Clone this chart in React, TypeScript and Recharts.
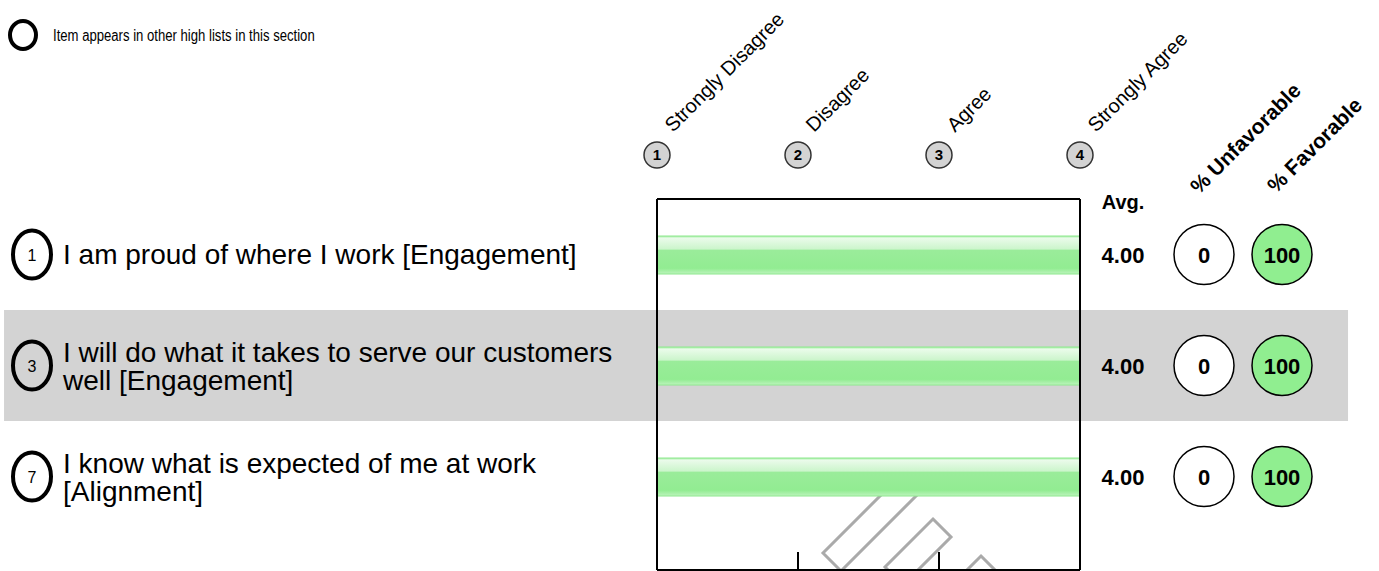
import { BarChart, Bar, XAxis, YAxis, ReferenceArea } from "recharts"

// survey items shown in the chart
const questionNumbers = [1, 3, 7]
const questionLines = [
  ["I am proud of where I work [Engagement]"],
  ["I will do what it takes to serve our customers", "well [Engagement]"],
  ["I know what is expected of me at work", "[Alignment]"],
]
const averages = [4.0, 4.0, 4.0]
const unfavorable = [0, 0, 0]
const favorable = [100, 100, 100]
const shadedRows = ["q3"]

// response scale
const scalePoints = [1, 2, 3, 4]
const scaleLabels = ["Strongly Disagree", "Disagree", "Agree", "Strongly Agree"]

const rows = questionNumbers.map((n, i) => ({ name: `q${n}`, avg: averages[i] }))

const FONT = "'Liberation Sans', Arial, sans-serif"
const rowIndex = (name: string) => rows.findIndex((r) => r.name === name)

const QuestionTick = (props: any) => {
  const { y, payload } = props
  const i = rowIndex(payload.value)
  if (i < 0) return <g />
  const lines = questionLines[i]
  const offsets = lines.length === 1 ? [9] : [-4, 24]
  return (
    <g>
      <ellipse cx={32} cy={y} rx={19} ry={24} fill="none" stroke="#000" strokeWidth={4} />
      <text x={32} y={y + 6} textAnchor="middle" fontSize={16} fill="#000">
        {questionNumbers[i]}
      </text>
      <text fontSize={28} fill="#000">
        {lines.map((l, k) => (
          <tspan key={k} x={63} y={y + offsets[k]}>
            {l}
          </tspan>
        ))}
      </text>
    </g>
  )
}

const ScoreTick = (props: any) => {
  const { x, y, payload } = props
  const i = rowIndex(payload.value)
  if (i < 0) return <g />
  return (
    <g fontWeight="bold" fontSize={22} fill="#000">
      <text x={x + 43} y={y + 8} textAnchor="middle">
        {averages[i].toFixed(2)}
      </text>
      <circle cx={x + 124} cy={y} r={30} fill="#fff" stroke="#000" strokeWidth={1.5} />
      <text x={x + 124} y={y + 8} textAnchor="middle">
        {unfavorable[i]}
      </text>
      <circle cx={x + 202} cy={y} r={30} fill="#90ee90" stroke="#000" strokeWidth={1.5} />
      <text x={x + 202} y={y + 8} textAnchor="middle">
        {favorable[i]}
      </text>
    </g>
  )
}

const ScaleTick = (props: any) => {
  const { x, y, payload } = props
  const i = scalePoints.indexOf(payload.value)
  const last = i === scalePoints.length - 1
  return (
    <g fill="#000">
      <circle cx={x} cy={y - 44} r={13} fill="#d3d3d3" stroke="#333" strokeWidth={1.5} />
      <text x={x} y={y - 39} textAnchor="middle" fontWeight="bold" fontSize={15}>
        {payload.value}
      </text>
      <text transform={`translate(${x + 16}, ${y - 66}) rotate(-45)`} fontSize={20}>
        {scaleLabels[i]}
      </text>
      {last && (
        <g fontWeight="bold">
          <text x={x + 43} y={y + 10} textAnchor="middle" fontSize={20}>
            Avg.
          </text>
          <text transform={`translate(${x + 119}, ${y - 4}) rotate(-45)`} fontSize={21}>
            % Unfavorable
          </text>
          <text transform={`translate(${x + 196}, ${y - 5}) rotate(-45)`} fontSize={21}>
            % Favorable
          </text>
        </g>
      )}
    </g>
  )
}

const InnerTick = (props: any) => {
  const { x, y, payload } = props
  if (payload.value === scalePoints[0] || payload.value === scalePoints[scalePoints.length - 1]) return <g />
  return <line x1={x} x2={x} y1={y} y2={y - 18} stroke="#000" strokeWidth={2} />
}

const axisLine = { stroke: "#000", strokeWidth: 2 }

export default function App() {
  return (
    <div style={{ position: "absolute", left: 0, top: 0, fontFamily: FONT }}>
      <BarChart
        width={1379}
        height={571}
        data={rows}
        layout="vertical"
        margin={{ top: 198, right: 298, bottom: 0, left: 656 }}
        style={{ fontFamily: FONT }}
      >
        <defs>
          <linearGradient id="barGlass" x1="0" y1="0" x2="0" y2="1">
            <stop offset="0%" stopColor="#a6efa6" />
            <stop offset="6%" stopColor="#eafbea" />
            <stop offset="34%" stopColor="#ccf5cc" />
            <stop offset="38%" stopColor="#9aec9a" />
            <stop offset="85%" stopColor="#92ec92" />
            <stop offset="100%" stopColor="#bdf4bd" />
          </linearGradient>
        </defs>

        {shadedRows.map((r) => (
          <ReferenceArea
            key={r}
            y1={r}
            y2={r}
            x1={-3.631}
            x2={5.901}
            ifOverflow="visible"
            fill="#d3d3d3"
            fillOpacity={1}
            stroke="none"
          />
        ))}

        <XAxis
          type="number"
          domain={[1, 4]}
          ticks={scalePoints}
          allowDataOverflow
          height={1}
          tickSize={0}
          tickMargin={0}
          tickLine={false}
          axisLine={axisLine}
          interval={0}
          tick={InnerTick}
        />
        <XAxis
          xAxisId="top"
          orientation="top"
          type="number"
          domain={[1, 4]}
          ticks={scalePoints}
          allowDataOverflow
          height={1}
          tickSize={0}
          tickMargin={0}
          tickLine={false}
          axisLine={axisLine}
          interval={0}
          tick={ScaleTick}
        />
        <YAxis
          type="category"
          dataKey="name"
          width={1}
          tickSize={0}
          tickMargin={0}
          tickLine={false}
          axisLine={axisLine}
          interval={0}
          padding={{ top: 0, bottom: 38 }}
          tick={QuestionTick}
        />
        <YAxis
          yAxisId="r"
          orientation="right"
          type="category"
          dataKey="name"
          width={1}
          tickSize={0}
          tickMargin={0}
          tickLine={false}
          axisLine={axisLine}
          interval={0}
          padding={{ top: 0, bottom: 38 }}
          tick={ScoreTick}
        />

        <Bar
          dataKey="avg"
          barSize={38}
          fill="url(#barGlass)"
          stroke="#8ee88e"
          strokeWidth={1}
          isAnimationActive={false}
        />

        {/* legend */}
        <ellipse cx={23} cy={35} rx={13} ry={14} fill="none" stroke="#000" strokeWidth={4} />
        <g transform="translate(53, 41) scale(0.82, 1)">
          <text x={0} y={0} fontSize={16} fill="#000" fontFamily={FONT}>
            Item appears in other high lists in this section
          </text>
        </g>

        {/* faint watermark */}
        <g fill="none" stroke="#aaa" strokeWidth={3}>
          <polygon points="898,478 916,496 841,571 823,553" />
          <polygon points="933,519 951,537 903,585 885,567" />
          <polygon points="981,556 999,574 975,598 957,580" />
        </g>
      </BarChart>
    </div>
  )
}
